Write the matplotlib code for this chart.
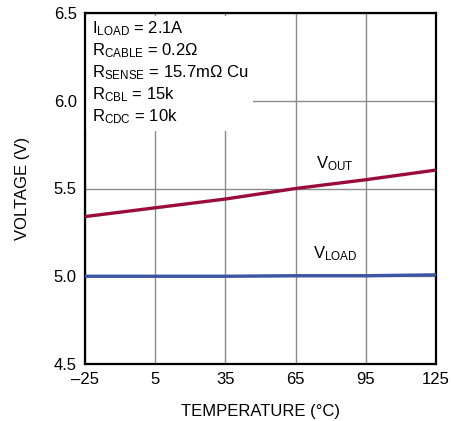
import matplotlib
matplotlib.use("Agg")
import matplotlib.pyplot as plt
from matplotlib.patches import Rectangle

temps = [-25, 5, 35, 65, 95, 125]
vout = [5.34, 5.39, 5.44, 5.50, 5.55, 5.605]
vload = [5.0, 5.0, 5.0, 5.003, 5.003, 5.008]
xticks = [-25, 5, 35, 65, 95, 125]
xticklabels = ["\u201325", "5", "35", "65", "95", "125"]
yticks = [4.5, 5.0, 5.5, 6.0, 6.5]
yticklabels = ["4.5", "5.0", "5.5", "6.0", "6.5"]
notes = [r"$I_{LOAD}$ = 2.1A", r"$R_{CABLE}$ = 0.2$\Omega$",
         r"$R_{SENSE}$ = 15.7m$\Omega$ Cu", r"$R_{CBL}$ = 15k", r"$R_{CDC}$ = 10k"]

plt.rcParams['font.family'] = ['Liberation Sans', 'DejaVu Sans']
plt.rcParams['mathtext.fontset'] = 'custom'
plt.rcParams['mathtext.rm'] = 'Liberation Sans'
plt.rcParams['mathtext.default'] = 'regular'

W, H = 451, 421
fig = plt.figure(figsize=(W/100, H/100), dpi=100)
ax = fig.add_axes([85/W, 1-364/H, (436-85)/W, (364-13)/H])
ax.set_xlim(-25, 125)
ax.set_ylim(4.5, 6.5)
ax.set_xticks(xticks)
ax.set_xticklabels(xticklabels)
ax.set_yticks(yticks)
ax.set_yticklabels(yticklabels)
ax.tick_params(length=0, labelsize=12, pad=6)
ax.grid(True, color='#8a8a8a', linewidth=1)
ax.set_axisbelow(True)
for s in ax.spines.values():
    s.set_linewidth(1.6)
    s.set_color('black')

ax.add_patch(Rectangle((-25, 5.83), 71.8, 0.655, facecolor='white', edgecolor='none', zorder=1.5))

ax.plot(temps, vout, color='#9b0b3a', linewidth=2.4, zorder=3, solid_capstyle='butt')
ax.plot(temps, vload, color='#3a56a5', linewidth=2.4, zorder=3, solid_capstyle='butt')

for i, t in enumerate(notes):
    ax.text(92/W, 1 - (33 + 22*i)/H, t, transform=fig.transFigure, fontsize=12, va='baseline', ha='left', zorder=4)

ax.text(316/W, 1-168/H, r"$V_{OUT}$", transform=fig.transFigure, fontsize=12, va='baseline')
ax.text(313/W, 1-258/H, r"$V_{LOAD}$", transform=fig.transFigure, fontsize=12, va='baseline')

ax.set_xlabel("TEMPERATURE (°C)", fontsize=12, labelpad=12)
ax.set_ylabel("VOLTAGE (V)", fontsize=12, labelpad=17)

fig.savefig("out.png", dpi=100)
